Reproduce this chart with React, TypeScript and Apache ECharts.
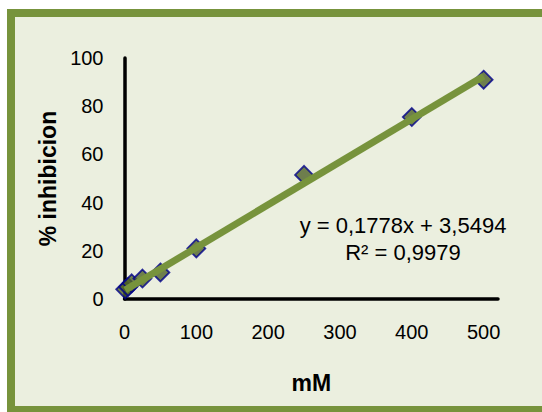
import React, { useEffect, useRef } from "react";
import * as echarts from "echarts";

const concentrations = [1, 5, 10, 25, 50, 100, 250, 400, 500];
const inhibition = [4, 5, 6.5, 8.5, 11, 21, 51.5, 75.5, 91];
const slope = 0.1778;
const intercept = 3.5494;
const rSquared = 0.9979;
const xTicks = [0, 100, 200, 300, 400, 500];
const yTicks = [0, 20, 40, 60, 80, 100];

const fmt = (v: number) => String(v).replace(".", ",");

export default function App() {
  const ref = useRef<HTMLDivElement>(null);
  useEffect(() => {
    if (!ref.current) return;
    const chart = echarts.init(ref.current, null, { renderer: "svg" });
    const font = "'Liberation Sans', Arial, sans-serif";
    const xFirst = concentrations[0];
    const xLast = concentrations[concentrations.length - 1];
    const trend = [
      [xFirst, slope * xFirst + intercept],
      [xLast, slope * xLast + intercept],
    ];
    chart.setOption({
      animation: false,
      backgroundColor: "#ffffff",
      graphic: [
        {
          type: "rect",
          z: -10,
          shape: { x: 11, y: 13, width: 560, height: 397 },
          style: { fill: "#EBEFDF", stroke: "#77933C", lineWidth: 8 },
        },
        {
          type: "text",
          z: 10,
          x: 403,
          y: 225,
          style: {
            text: `y = ${fmt(slope)}x + ${fmt(intercept)}`,
            font: `22px ${font}`,
            fill: "#000",
            align: "center",
            verticalAlign: "middle",
          },
        },
        {
          type: "text",
          z: 10,
          x: 403,
          y: 252,
          style: {
            text: `R² = ${fmt(rSquared)}`,
            font: `22px ${font}`,
            fill: "#000",
            align: "center",
            verticalAlign: "middle",
          },
        },
      ],
      grid: { left: 124.5, top: 58, right: 44, bottom: 113 },
      xAxis: {
        type: "value",
        min: xTicks[0],
        max: 520,
        interval: xTicks[1] - xTicks[0],
        name: "mM",
        nameLocation: "middle",
        nameGap: 72,
        nameTextStyle: { fontFamily: font, fontSize: 23, fontWeight: "bold", color: "#000" },
        axisLine: { show: true, onZero: false, lineStyle: { color: "#000", width: 3.5 } },
        axisTick: { show: false },
        splitLine: { show: false },
        axisLabel: {
          fontFamily: font,
          fontSize: 20,
          color: "#000",
          margin: 23,
          showMaxLabel: false,
          formatter: (v: number) => (xTicks.includes(v) ? String(v) : ""),
        },
      },
      yAxis: {
        type: "value",
        min: yTicks[0],
        max: yTicks[yTicks.length - 1],
        interval: yTicks[1] - yTicks[0],
        name: "% inhibicion",
        nameLocation: "middle",
        nameGap: 63,
        nameTextStyle: { fontFamily: font, fontSize: 23, fontWeight: "bold", color: "#000" },
        axisLine: { show: true, onZero: false, lineStyle: { color: "#000", width: 3.5 } },
        axisTick: { show: false },
        splitLine: { show: false },
        axisLabel: { fontFamily: font, fontSize: 20, color: "#000", margin: 21 },
      },
      series: [
        {
          type: "scatter",
          data: concentrations.map((c, i) => [c, inhibition[i]]),
          symbol: "diamond",
          symbolSize: 18,
          itemStyle: { color: "#4F6228", borderColor: "#00008B", borderWidth: 1.8 },
          z: 3,
        },
        {
          type: "line",
          data: trend,
          symbol: "none",
          lineStyle: { color: "#77933C", width: 7 },
          z: 4,
        },
      ],
    });
    return () => chart.dispose();
  }, []);
  return (
    <div
      ref={ref}
      style={{ position: "fixed", left: 0, top: 0, width: 542, height: 412 }}
    />
  );
}
